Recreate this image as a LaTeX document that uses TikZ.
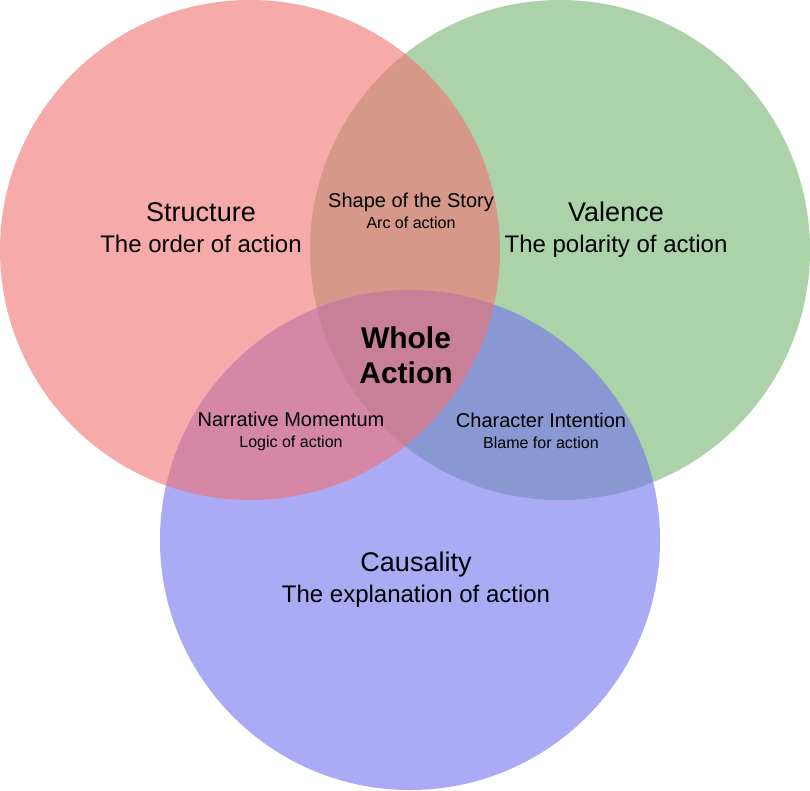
\documentclass[tikz,border=0pt]{standalone}
\usepackage{fontspec}
\setmainfont{Liberation Sans}
\usepackage{tikz}
\usetikzlibrary{positioning}
\usepackage{xcolor}
\definecolor{setred}{RGB}{242,113,113}
\definecolor{setgreen}{RGB}{117,180,113}
\definecolor{setblue}{RGB}{113,113,238}

\begin{document}
\begin{tikzpicture}[
    x=1pt, y=-1pt,
    venn/.style={fill opacity=0.6},
    big/.style={align=center, inner sep=0pt, font=\fontsize{24}{31}\selectfont},
    small/.style={align=center, inner sep=0pt, font=\fontsize{16}{21}\selectfont},
    core/.style={align=center, inner sep=0pt, font=\fontsize{30}{35}\selectfont\bfseries}
]
    \useasboundingbox (0,0) rectangle (810,790);
    % the three sets
    \fill[venn, setgreen] (560,250) circle (250);
    \fill[venn, setblue]  (410,540) circle (250);
    \fill[venn, setred]   (250,250) circle (250);

    \node[big] (structure) at (201,227.5) {{\fontsize{27}{31}\selectfont Structure}\\The order of action};
    \node[big] (valence)   at (616,229.5) {{\fontsize{27}{31}\selectfont Valence}\\The polarity of action};
    \node[big] (causality) at (416,580) {{\fontsize{27}{31}\selectfont Causality}\\The explanation of action};

    \node[small] (shape)     at (411,210.5) {{\fontsize{20}{21}\selectfont Shape of the Story}\\Arc of action};
    \node[small] (narrative) at (291,431.5) {{\fontsize{20}{21}\selectfont Narrative Momentum}\\Logic of action};
    \node[small] (intention) at (541,431) {{\fontsize{20}{21}\selectfont Character Intention}\\Blame for action};

    \node[core] (whole) at (406,355) {Whole\\Action};
\end{tikzpicture}
\end{document}
